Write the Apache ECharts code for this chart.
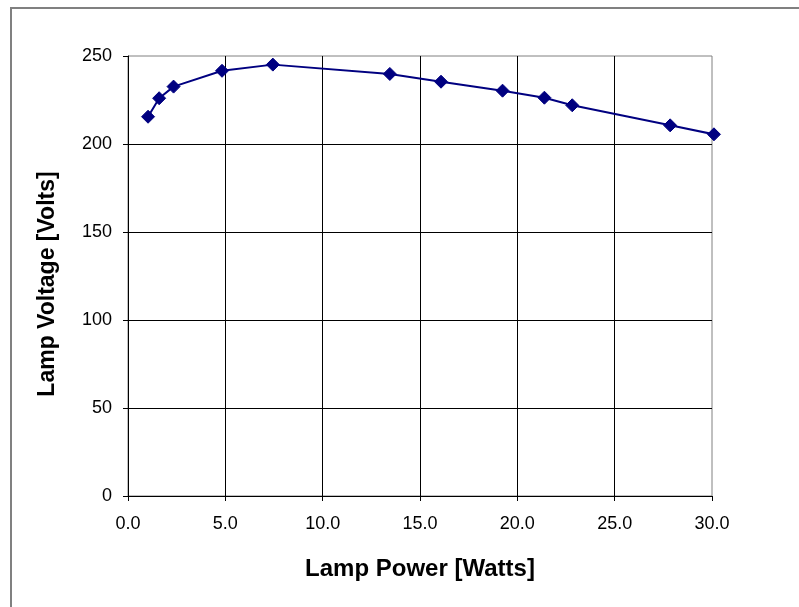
<!DOCTYPE html>
<html>
<head>
<meta charset="utf-8">
<script src="https://cdn.jsdelivr.net/npm/echarts@6/dist/echarts.min.js"></script>
<style>
html,body{margin:0;padding:0;background:#fff;}
#chart{width:799px;height:607px;}
</style>
</head>
<body>
<div id="chart"></div>
<script>
// Lamp power (Watts) and lamp voltage (Volts)
var powerWatts = [1.03, 1.60, 2.34, 4.83, 7.44, 13.45, 16.08, 19.24, 21.39, 22.82, 27.85, 30.1];
var voltageVolts = [215.5, 226.0, 232.6, 241.6, 245.1, 239.8, 235.4, 230.3, 226.3, 222.0, 210.6, 205.5];
var xTitle = 'Lamp Power [Watts]';
var yTitle = 'Lamp Voltage [Volts]';

var points = powerWatts.map(function (p, i) { return [p, voltageVolts[i]]; });

var chart = echarts.init(document.getElementById('chart'), null, {renderer: 'canvas'});
var font = '"Liberation Sans", Arial, sans-serif';
chart.setOption({
  animation: false,
  backgroundColor: '#fff',
  graphic: [{
    type: 'rect',
    shape: {x: 11, y: 8, width: 820, height: 640},
    style: {fill: 'none', stroke: '#808080', lineWidth: 2},
    silent: true
  }],
  grid: {
    left: 128, right: 87, top: 56, bottom: 111,
    show: true, borderColor: '#808080', borderWidth: 1, backgroundColor: 'transparent'
  },
  xAxis: {
    type: 'value', min: 0, max: 30, interval: 5,
    name: xTitle, nameLocation: 'middle', nameGap: 61,
    nameTextStyle: {fontFamily: font, fontWeight: 'bold', fontSize: 24, color: '#000'},
    axisLine: {show: true, onZero: false, lineStyle: {color: '#000', width: 1}},
    axisTick: {show: true, inside: false, length: 5, lineStyle: {color: '#000'}},
    axisLabel: {fontFamily: font, fontSize: 18, color: '#000', margin: 19,
      formatter: function (v) { return v.toFixed(1); }},
    splitLine: {show: true, showMinLine: false, showMaxLine: false, lineStyle: {color: '#000', width: 1}}
  },
  yAxis: {
    type: 'value', min: 0, max: 250, interval: 50,
    name: yTitle, nameLocation: 'middle', nameGap: 69, nameRotate: 90,
    nameTextStyle: {fontFamily: font, fontWeight: 'bold', fontSize: 23, color: '#000', padding: [0, 16, 0, 0]},
    axisLine: {show: true, onZero: false, lineStyle: {color: '#000', width: 1}},
    axisTick: {show: true, inside: false, length: 5, lineStyle: {color: '#000'}},
    axisLabel: {fontFamily: font, fontSize: 18, color: '#000', margin: 16},
    splitLine: {show: true, showMinLine: false, showMaxLine: false, lineStyle: {color: '#000', width: 1}}
  },
  series: [{
    type: 'line',
    data: points,
    symbol: 'diamond',
    symbolSize: 13,
    showAllSymbol: true,
    lineStyle: {color: '#000080', width: 2},
    itemStyle: {color: '#000080', borderColor: '#000080'},
    clip: false
  }]
});
</script>
</body>
</html>
